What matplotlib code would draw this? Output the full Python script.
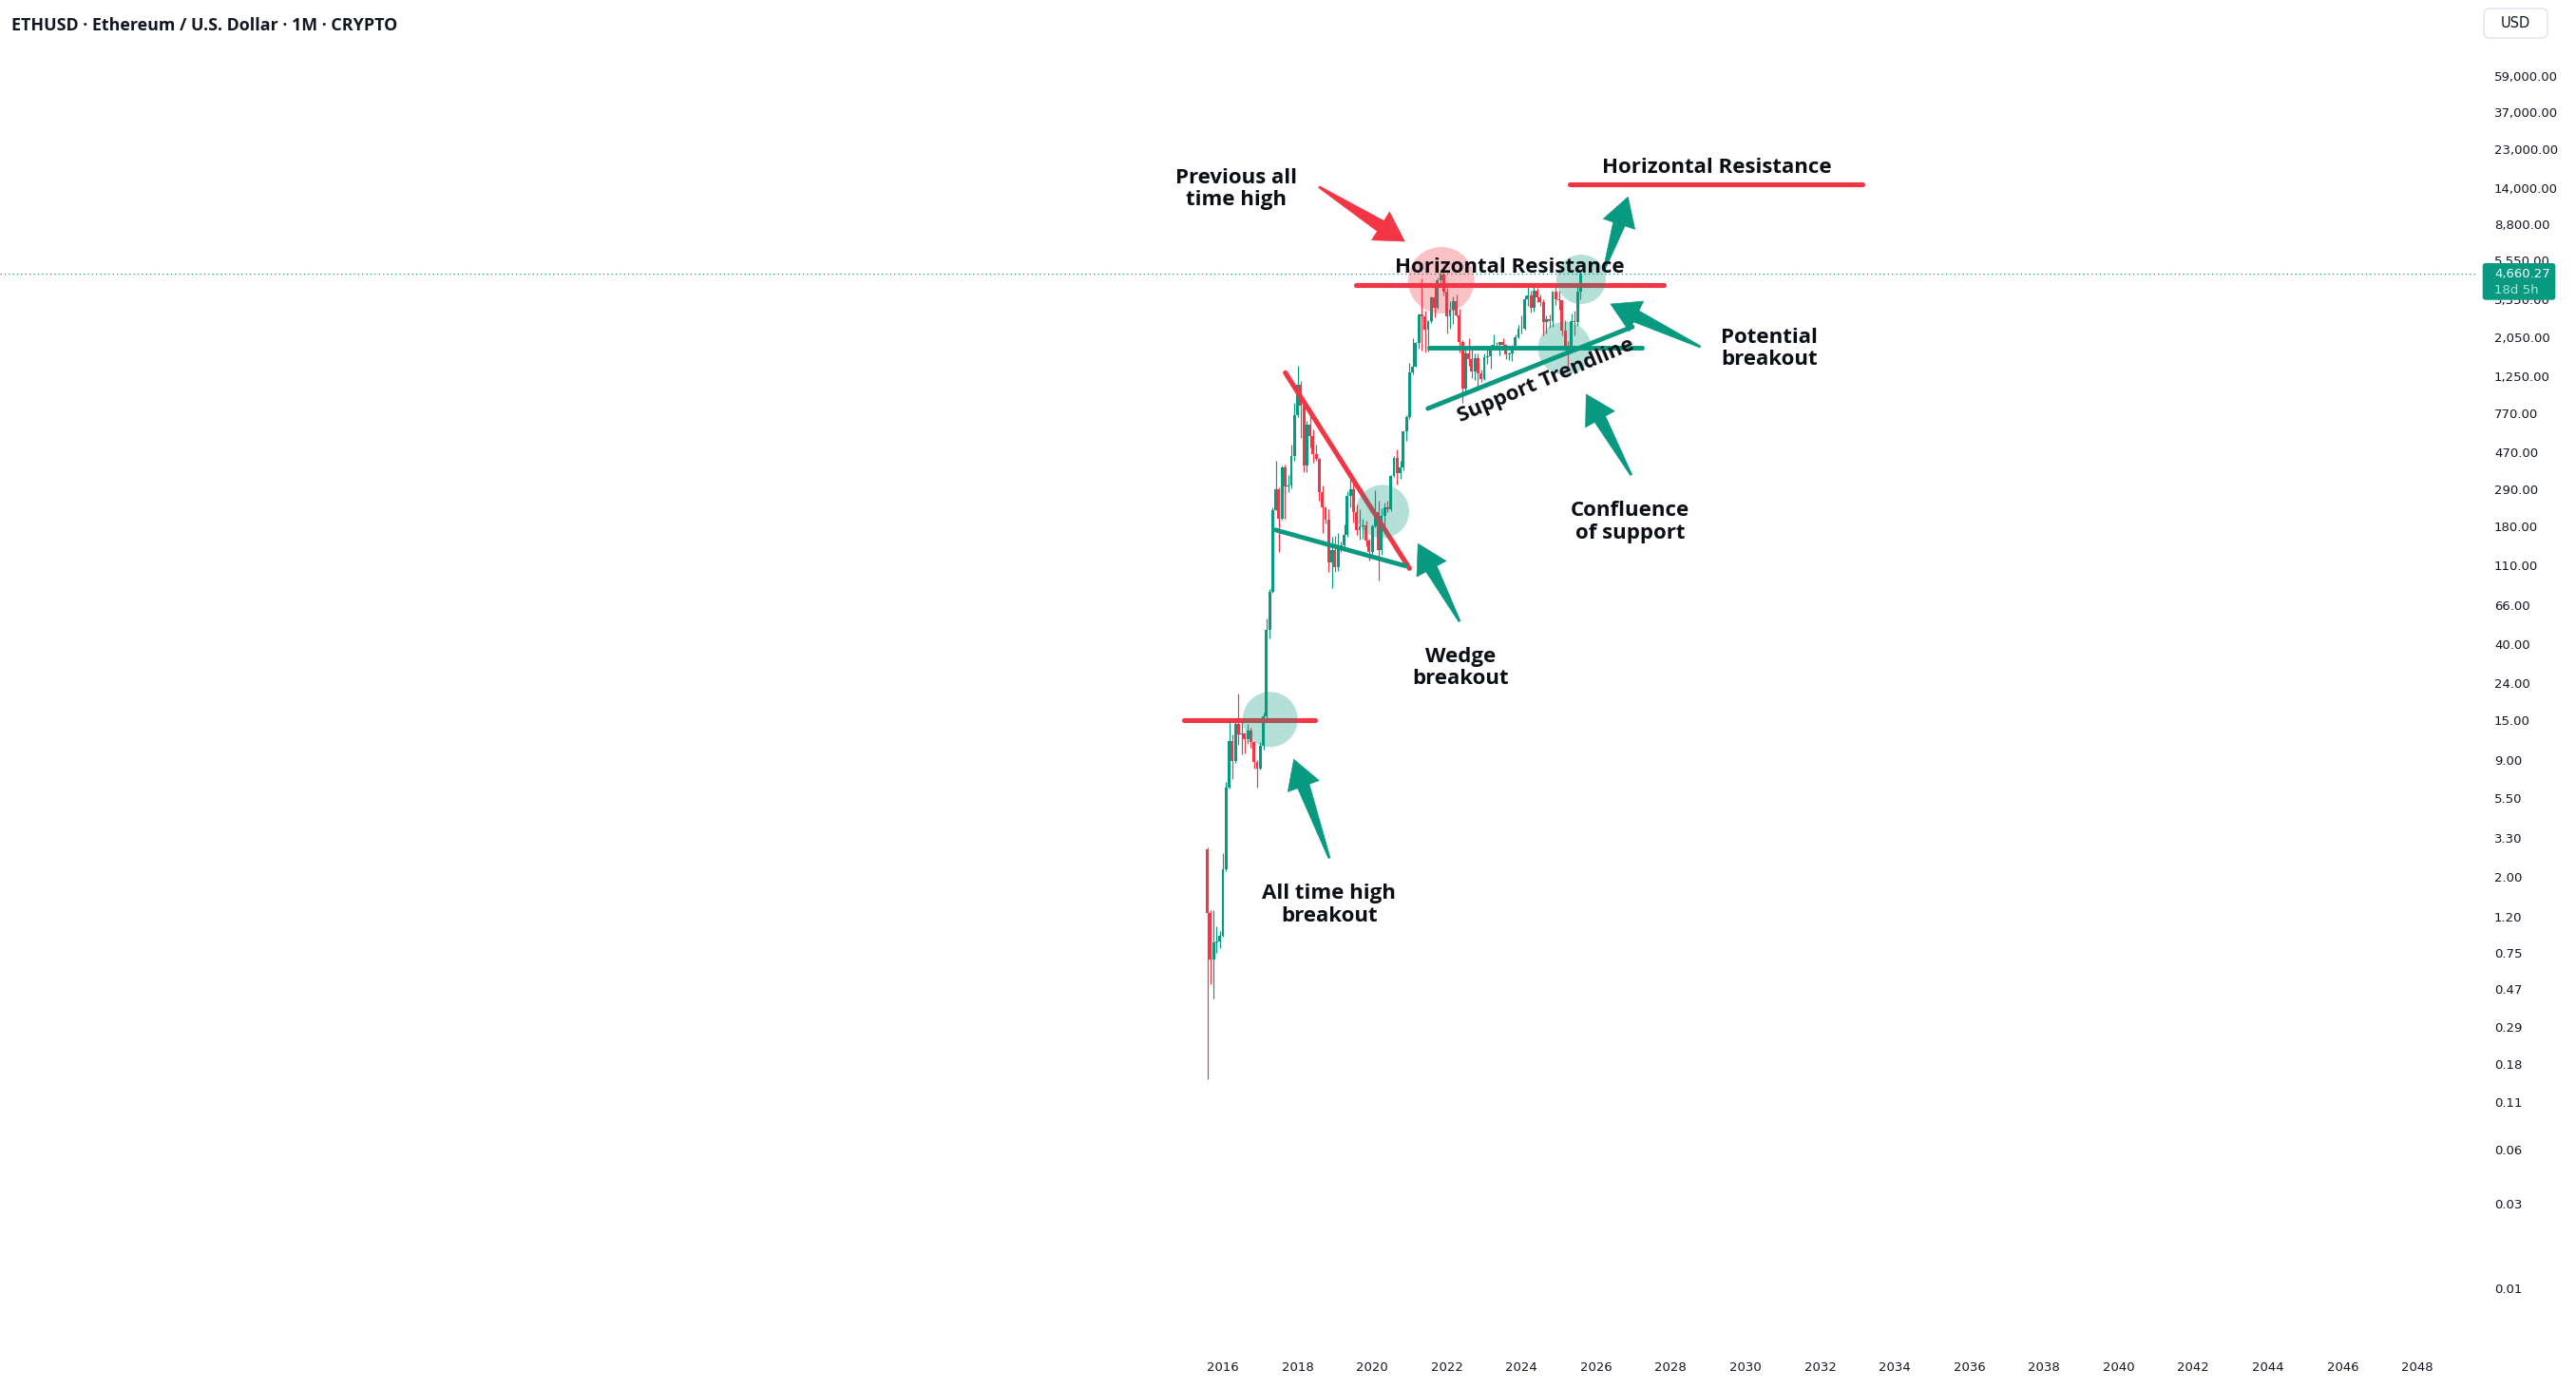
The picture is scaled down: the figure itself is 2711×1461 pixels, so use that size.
import numpy as np
import matplotlib
matplotlib.use("Agg")
import matplotlib.pyplot as plt
from matplotlib.patches import Circle, Polygon, FancyBboxPatch
from matplotlib.ticker import NullLocator
from matplotlib.transforms import IdentityTransform, offset_copy

W, H, DPI = 2711, 1461, 100
GREEN = '#089981'
RED = '#F23645'
INK = '#131722'
ANNO_FONT = ['Open Sans', 'DejaVu Sans']

# monthly ETHUSD candles, Aug 2015 .. Aug 2025
start_year, start_month = 2015, 8
opens = [2.85, 1.26, 0.69, 0.86, 0.87,
         0.93, 2.21, 6.30, 11.4, 8.9, 14.2, 12.4, 12.6, 11.7, 13.1, 11.3, 8.7,
         8.0, 10.7, 15.8, 48.0, 78.0, 223, 292, 200, 386, 302, 305, 445,
         756, 1118, 855, 396, 670, 578, 455, 433, 282, 232, 198, 113,
         133, 107, 136, 141, 162, 268, 291, 218, 172, 180, 182, 151,
         130, 180, 218, 133, 206, 231, 225, 345, 434, 360, 386, 613,
         737, 1314, 1416, 1918, 2773, 2706, 2275, 2536, 3430, 3000, 4288, 4630,
         3683, 2688, 2920, 3282, 2728, 1941, 1067, 1678, 1553, 1328, 1572, 1295,
         1196, 1585, 1605, 1822, 1870, 1874, 1934, 1857, 1645, 1671, 1815, 2050,
         2282, 2283, 3340, 3505, 3015, 3762, 3437, 3232, 2513, 2602, 2520, 3703,
         3332, 3300, 2237, 1822, 1794, 2528, 2486, 3697]
highs = [2.90, 1.30, 1.30, 1.05, 0.99,
         2.70, 6.80, 15.0, 12.5, 14.8, 21.0, 14.9, 12.8, 14.2, 13.6, 11.5, 9.0,
         11.3, 16.6, 55.0, 81.0, 231, 420, 300, 395, 400, 350, 520, 880,
         1420, 1165, 880, 700, 835, 625, 515, 438, 305, 235, 225, 158,
         160, 166, 148, 186, 285, 365, 318, 240, 225, 199, 195, 155,
         185, 288, 253, 228, 245, 253, 349, 448, 488, 420, 622, 755,
         1475, 2040, 1945, 2795, 4380, 2890, 2550, 3470, 4030, 4460, 4870, 4780,
         3900, 3280, 3480, 3580, 2960, 1970, 1790, 2030, 1790, 1665, 1680, 1350,
         1680, 1745, 1860, 2140, 1930, 1940, 2030, 1880, 1700, 1865, 2130, 2415,
         2715, 3520, 4090, 3730, 3975, 3890, 3560, 3340, 2730, 2770, 3740, 4110,
         3745, 3330, 2550, 1955, 2790, 2880, 3940, 4790]
lows = [0.147, 0.50, 0.42, 0.75, 0.80,
        0.92, 2.15, 6.20, 7.0, 8.6, 10.9, 9.6, 9.8, 11.0, 10.5, 8.0, 6.3,
        7.9, 10.3, 15.4, 43.0, 77.0, 222, 130, 196, 200, 280, 295, 418,
        735, 560, 365, 365, 500, 410, 420, 250, 167, 188, 100, 82,
        101, 102, 130, 137, 158, 230, 190, 162, 153, 155, 140, 117,
        127, 178, 90, 125, 178, 216, 220, 340, 310, 333, 372, 540,
        715, 1282, 1400, 1785, 1730, 1700, 1720, 2460, 2650, 2970, 3940, 3500,
        2160, 2300, 2450, 2700, 1700, 880, 1000, 1420, 1220, 1190, 1075, 1160,
        1190, 1460, 1370, 1760, 1760, 1625, 1825, 1550, 1530, 1520, 1775, 2030,
        2160, 2265, 3060, 2810, 2860, 3240, 3090, 2110, 2150, 2310, 2360, 3100,
        2925, 2100, 1755, 1385, 1750, 2110, 2370, 3355]
closes = [1.26, 0.69, 0.86, 0.87, 0.93,
          2.21, 6.30, 11.4, 8.9, 14.2, 12.4, 12.6, 11.7, 13.1, 11.3, 8.7, 8.0,
          10.7, 15.8, 48.0, 78.0, 223, 292, 200, 386, 302, 305, 445, 756,
          1118, 855, 396, 670, 578, 455, 433, 282, 232, 198, 113, 133,
          107, 136, 141, 162, 268, 291, 218, 172, 180, 182, 151, 130,
          180, 218, 133, 206, 231, 225, 345, 434, 360, 386, 613, 737,
          1314, 1416, 1918, 2773, 2706, 2275, 2536, 3430, 3000, 4288, 4630, 3683,
          2688, 2920, 3282, 2728, 1941, 1067, 1678, 1553, 1328, 1572, 1295, 1196,
          1585, 1605, 1822, 1870, 1874, 1934, 1857, 1645, 1671, 1815, 2050, 2282,
          2283, 3340, 3505, 3015, 3762, 3437, 3232, 2513, 2602, 2520, 3703, 3332,
          3300, 2237, 1822, 1794, 2528, 2486, 3697, 4660.27]

title = "ETHUSD \u00b7 Ethereum / U.S. Dollar \u00b7 1M \u00b7 CRYPTO"
currency = "USD"
countdown = "18d 5h"
year_ticks = list(range(2016, 2049, 2))
price_ticks = [59000, 37000, 23000, 14000, 8800, 5550, 3350, 2050, 1250, 770,
               470, 290, 180, 110, 66, 40, 24, 15, 9, 5.5, 3.3, 2, 1.2, 0.75,
               0.47, 0.29, 0.18, 0.11, 0.06, 0.03, 0.01]

# drawings: (start, end) in (year, price)
red_lines = [((2014.956, 15.0), (2018.469, 15.0)),
             ((2017.673, 1303), (2020.998, 105.2)),
             ((2019.557, 4025), (2027.805, 4025)),
             ((2025.285, 14640), (2033.133, 14640))]
green_lines = [((2017.393, 172.9), (2020.896, 108.6)),
               ((2021.524, 1797), (2027.235, 1797)),
               ((2021.491, 822.6), (2026.972, 2351))]
# (year, price, radius px, colour)
highlights = [(2017.265, 15.1, 29, GREEN),
              (2020.277, 219, 28, GREEN),
              (2021.848, 4279, 35, RED),
              (2025.598, 4330, 26, GREEN),
              (2025.157, 1782, 28, GREEN)]
# (tail, tip, colour)
arrows = [((2018.85, 2.54), (2017.90, 9.04), GREEN),
          ((2022.339, 53.3), (2021.227, 144.6), GREEN),
          ((2018.576, 14213), (2020.870, 7060), RED),
          ((2026.217, 4935), (2026.853, 12490), GREEN),
          ((2028.788, 1819), (2026.387, 3152), GREEN),
          ((2026.939, 349.9), (2025.733, 988), GREEN)]
# (lines, year, price of first baseline)
labels = [(["Previous all", "time high"], 2016.351, 14930),
          (["Horizontal Resistance"], 2023.688, 4700),
          (["Horizontal Resistance"], 2029.23, 16910),
          (["Potential", "breakout"], 2030.638, 1917),
          (["Confluence", "of support"], 2026.916, 206.1),
          (["Wedge", "breakout"], 2022.364, 31.6),
          (["All time high", "breakout"], 2018.846, 1.505)]
trend_label = ("Support Trendline", 2024.707, 1103, 22.8)


def arrow_patch(ax, tail, tip, color, head_len=30, head_w=35, shaft_w=13, tail_w=2):
	p0 = ax.transData.transform(tail)
	p1 = ax.transData.transform(tip)
	d = p1 - p0
	u = d / np.hypot(d[0], d[1])
	nrm = np.array([-u[1], u[0]])
	base = p1 - u * head_len
	pts = [p0 + nrm * tail_w / 2, base + nrm * shaft_w / 2, base + nrm * head_w / 2, p1,
	       base - nrm * head_w / 2, base - nrm * shaft_w / 2, p0 - nrm * tail_w / 2]
	return Polygon(pts, closed=True, transform=IdentityTransform(), facecolor=color,
	               edgecolor=color, linewidth=0.5, joinstyle='round', clip_on=False, zorder=6)


fig = plt.figure(figsize=(W / DPI, H / DPI), dpi=DPI, facecolor='white')
pane_right, pane_bottom = 2607, 1415
ax = fig.add_axes([0, (H - pane_bottom) / H, pane_right / W, pane_bottom / H])
ax.set_facecolor('white')

t = np.array([start_year + (start_month - 1 + i) / 12 for i in range(len(closes))])
o, hi, lo, c = map(np.array, (opens, highs, lows, closes))
cols = np.where(c >= o, GREEN, RED)

ax.set_yscale('log')
ax.set_xlim(1983.235, 2049.605)
ax.set_ylim(10 ** -2.3104, 10 ** 5.1963)

ax.vlines(t, lo, hi, colors=cols, linewidth=0.85, zorder=2)
ax.bar(t, np.abs(c - o), bottom=np.minimum(o, c), width=0.074, color=cols, linewidth=0, zorder=3)

ax.axhline(closes[-1], color=GREEN, linewidth=0.9, linestyle=(0, (1, 2.5)), zorder=1)

for (a, b) in red_lines:
	ax.plot([a[0], b[0]], [a[1], b[1]], color=RED, linewidth=3.7, solid_capstyle='round', zorder=4)
for (a, b) in green_lines:
	ax.plot([a[0], b[0]], [a[1], b[1]], color=GREEN, linewidth=3.5, solid_capstyle='round', zorder=4)

for (yr, p, r, col) in highlights:
	ax.add_patch(Circle(ax.transData.transform((yr, p)), r, transform=IdentityTransform(),
	                    facecolor=col, edgecolor='none', alpha=0.3, zorder=5, clip_on=False))

for (tail, tip, col) in arrows:
	ax.add_patch(arrow_patch(ax, tail, tip, col))

for (lines, yr, p) in labels:
	for i, s in enumerate(lines):
		tr = offset_copy(ax.transData, fig=fig, y=-23.5 * i, units='dots')
		ax.text(yr, p, s, transform=tr, ha='center', va='baseline', fontsize=16,
		        fontweight='bold', family=ANNO_FONT, color='#0b0e14', zorder=7)
s, yr, p, rot = trend_label
ax.text(yr, p, s, ha='center', va='baseline', rotation=rot, rotation_mode='anchor',
        fontsize=16, fontweight='bold', family=ANNO_FONT, color='#0b0e14', zorder=7)

for side in ax.spines.values():
	side.set_visible(False)

ax.yaxis.tick_right()
ax.set_yticks(price_ticks)
ax.set_yticklabels([f"{v:,.2f}" for v in price_ticks])
ax.yaxis.set_minor_locator(NullLocator())
ax.tick_params(axis='y', length=0, pad=13, labelsize=9.5, labelcolor=INK)
ax.set_xticks(year_ticks)
ax.set_xticklabels([str(y) for y in year_ticks])
ax.xaxis.set_minor_locator(NullLocator())
ax.tick_params(axis='x', length=0, pad=13, labelsize=9.5, labelcolor=INK)

# last price tag on the scale
yd = ax.transData.transform((t[-1], closes[-1]))[1]
fig.patches.append(FancyBboxPatch((2612.7, yd - 27.7), 76.6, 38.7,
                                  boxstyle="round,pad=0,rounding_size=3",
                                  transform=IdentityTransform(), facecolor=GREEN,
                                  edgecolor='none', zorder=10))
fig.text(2625, yd, f"{closes[-1]:,.2f}", transform=IdentityTransform(), color='white',
         fontsize=9.5, va='center', ha='left', zorder=11)
fig.text(2625, yd - 17.5, countdown, transform=IdentityTransform(), color='#b4e2d8',
         fontsize=9.5, va='center', ha='left', zorder=11)

fig.patches.append(FancyBboxPatch((2614, H - 40), 67, 31,
                                  boxstyle="round,pad=0,rounding_size=6",
                                  transform=IdentityTransform(), facecolor='white',
                                  edgecolor='#e0e3eb', linewidth=1, zorder=10))
fig.text(2647.5, H - 24.5, currency, transform=IdentityTransform(), color=INK,
         fontsize=10.5, va='center', ha='center', zorder=11)

fig.text(12, H - 27, title, transform=IdentityTransform(), color=INK, fontsize=12.9,
         fontweight='bold', family=ANNO_FONT, va='center', ha='left')

fig.savefig("out.png", dpi=DPI, facecolor='white')
